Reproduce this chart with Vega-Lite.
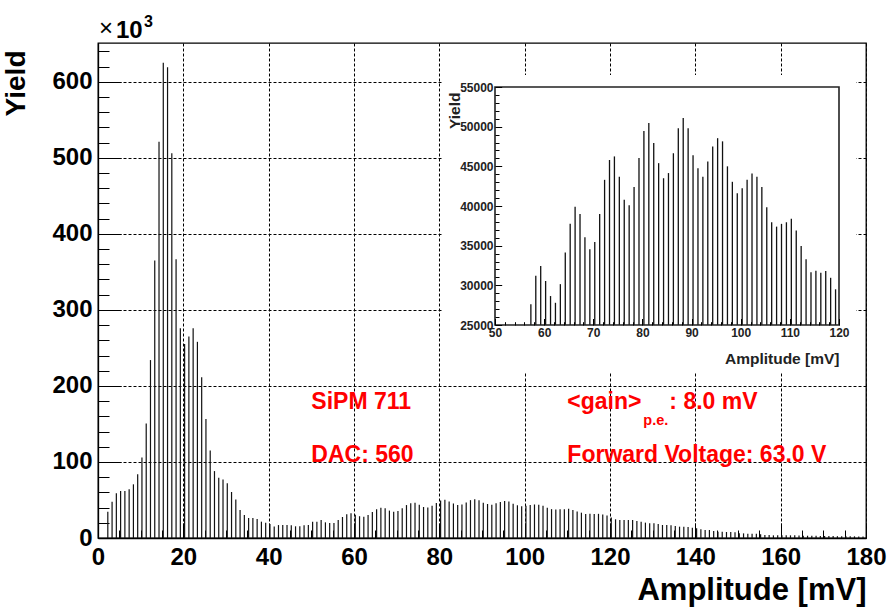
{
  "$schema": "https://vega.github.io/schema/vega-lite/v6.json",
  "width": 768,
  "height": 495,
  "autosize": "none",
  "padding": {"left": 98, "top": 43, "right": 25, "bottom": 73},
  "background": "#ffffff",
  "config": {
    "view": {"stroke": "#000000", "strokeWidth": 1.3},
    "axis": {"labelFont": "Liberation Sans", "titleFont": "Liberation Sans", "labelColor": "#000000", "titleColor": "#000000", "tickColor": "#000000", "domainColor": "#000000", "labelFlush": false, "labelOverlap": false, "labelBound": false}
  },
  "datasets": {
    "hist": [
      {"amp": 2.3, "yield": 34600}, {"amp": 3.3, "yield": 47800}, {"amp": 4.3, "yield": 58800}, {"amp": 5.3, "yield": 61800},
      {"amp": 6.3, "yield": 61800}, {"amp": 7.3, "yield": 64000}, {"amp": 8.3, "yield": 70600}, {"amp": 9.3, "yield": 83800},
      {"amp": 10.3, "yield": 106000}, {"amp": 11.3, "yield": 150500}, {"amp": 12.3, "yield": 234000}, {"amp": 13.3, "yield": 365000},
      {"amp": 14.3, "yield": 521000}, {"amp": 15.3, "yield": 625000}, {"amp": 16.3, "yield": 619000}, {"amp": 17.3, "yield": 506000},
      {"amp": 18.3, "yield": 366700}, {"amp": 19.3, "yield": 276000}, {"amp": 20.3, "yield": 255000}, {"amp": 21.3, "yield": 265000},
      {"amp": 22.3, "yield": 276000}, {"amp": 23.3, "yield": 258000}, {"amp": 24.3, "yield": 211500}, {"amp": 25.3, "yield": 156500},
      {"amp": 26.3, "yield": 115000}, {"amp": 27.3, "yield": 88000}, {"amp": 28.3, "yield": 79200}, {"amp": 29.3, "yield": 77000},
      {"amp": 30.3, "yield": 72000}, {"amp": 31.3, "yield": 60500}, {"amp": 32.3, "yield": 50500}, {"amp": 33.3, "yield": 36800},
      {"amp": 34.3, "yield": 30300}, {"amp": 35.3, "yield": 26300}, {"amp": 36.3, "yield": 26300}, {"amp": 37.3, "yield": 25000},
      {"amp": 38.3, "yield": 21500}, {"amp": 39.3, "yield": 20200}, {"amp": 40.3, "yield": 18500}, {"amp": 41.3, "yield": 15000},
      {"amp": 42.3, "yield": 17000}, {"amp": 43.3, "yield": 17100}, {"amp": 44.3, "yield": 17100}, {"amp": 45.3, "yield": 16700},
      {"amp": 46.3, "yield": 15400}, {"amp": 47.3, "yield": 15400}, {"amp": 48.3, "yield": 16700}, {"amp": 49.3, "yield": 17100},
      {"amp": 50.3, "yield": 21500}, {"amp": 51.3, "yield": 21500}, {"amp": 52.3, "yield": 23700}, {"amp": 53.3, "yield": 20600},
      {"amp": 54.3, "yield": 19700}, {"amp": 55.3, "yield": 19700}, {"amp": 56.3, "yield": 23700}, {"amp": 57.3, "yield": 27600},
      {"amp": 58.3, "yield": 31200}, {"amp": 59.3, "yield": 32450}, {"amp": 60.3, "yield": 30550}, {"amp": 61.3, "yield": 28650},
      {"amp": 62.3, "yield": 27800}, {"amp": 63.3, "yield": 30150}, {"amp": 64.3, "yield": 34150}, {"amp": 65.3, "yield": 37750},
      {"amp": 66.3, "yield": 39900}, {"amp": 67.3, "yield": 39000}, {"amp": 68.3, "yield": 36050}, {"amp": 69.3, "yield": 34550},
      {"amp": 70.3, "yield": 35450}, {"amp": 71.3, "yield": 39000}, {"amp": 72.3, "yield": 43300}, {"amp": 73.3, "yield": 45800},
      {"amp": 74.3, "yield": 46250}, {"amp": 75.3, "yield": 43700}, {"amp": 76.3, "yield": 40800}, {"amp": 77.3, "yield": 40100},
      {"amp": 78.3, "yield": 42400}, {"amp": 79.3, "yield": 46050}, {"amp": 80.3, "yield": 49450}, {"amp": 81.3, "yield": 50450},
      {"amp": 82.3, "yield": 47950}, {"amp": 83.3, "yield": 45400}, {"amp": 84.3, "yield": 43500}, {"amp": 85.3, "yield": 44150},
      {"amp": 86.3, "yield": 46650}, {"amp": 87.3, "yield": 49800}, {"amp": 88.3, "yield": 51100}, {"amp": 89.3, "yield": 49800},
      {"amp": 90.3, "yield": 46400}, {"amp": 91.3, "yield": 44750}, {"amp": 92.3, "yield": 43700}, {"amp": 93.3, "yield": 45600},
      {"amp": 94.3, "yield": 47500}, {"amp": 95.3, "yield": 48550}, {"amp": 96.3, "yield": 48150}, {"amp": 97.3, "yield": 45000},
      {"amp": 98.3, "yield": 43050}, {"amp": 99.3, "yield": 41600}, {"amp": 100.3, "yield": 42250}, {"amp": 101.3, "yield": 43300},
      {"amp": 102.3, "yield": 44100}, {"amp": 103.3, "yield": 43700}, {"amp": 104.3, "yield": 42400}, {"amp": 105.3, "yield": 39850},
      {"amp": 106.3, "yield": 37950}, {"amp": 107.3, "yield": 37400}, {"amp": 108.3, "yield": 37750}, {"amp": 109.3, "yield": 37950},
      {"amp": 110.3, "yield": 38400}, {"amp": 111.3, "yield": 36900}, {"amp": 112.3, "yield": 34950}, {"amp": 113.3, "yield": 33300},
      {"amp": 114.3, "yield": 31650}, {"amp": 115.3, "yield": 31850}, {"amp": 116.3, "yield": 31600}, {"amp": 117.3, "yield": 31800},
      {"amp": 118.3, "yield": 30950}, {"amp": 119.3, "yield": 29500}, {"amp": 120.3, "yield": 26800}, {"amp": 121.3, "yield": 24600},
      {"amp": 122.3, "yield": 23700}, {"amp": 123.3, "yield": 23700}, {"amp": 124.3, "yield": 23700}, {"amp": 125.3, "yield": 23700},
      {"amp": 126.3, "yield": 22400}, {"amp": 127.3, "yield": 21500}, {"amp": 128.3, "yield": 20200}, {"amp": 129.3, "yield": 19300},
      {"amp": 130.3, "yield": 19300}, {"amp": 131.3, "yield": 18400}, {"amp": 132.3, "yield": 17100}, {"amp": 133.3, "yield": 17100},
      {"amp": 134.3, "yield": 16700}, {"amp": 135.3, "yield": 15800}, {"amp": 136.3, "yield": 14900}, {"amp": 137.3, "yield": 14900},
      {"amp": 138.3, "yield": 14500}, {"amp": 139.3, "yield": 13600}, {"amp": 140.3, "yield": 12700}, {"amp": 141.3, "yield": 11400},
      {"amp": 142.3, "yield": 10500}, {"amp": 143.3, "yield": 10500}, {"amp": 144.3, "yield": 9200}, {"amp": 145.3, "yield": 8300},
      {"amp": 146.3, "yield": 8300}, {"amp": 147.3, "yield": 7900}, {"amp": 148.3, "yield": 7900}, {"amp": 149.3, "yield": 7500},
      {"amp": 150.3, "yield": 6100}, {"amp": 151.3, "yield": 6100}, {"amp": 152.3, "yield": 5700}, {"amp": 153.3, "yield": 5700},
      {"amp": 154.3, "yield": 5500}, {"amp": 155.3, "yield": 4800}, {"amp": 156.3, "yield": 3900}, {"amp": 157.3, "yield": 3900},
      {"amp": 158.3, "yield": 3500}, {"amp": 159.3, "yield": 3500}, {"amp": 160.3, "yield": 3500}, {"amp": 161.3, "yield": 3500},
      {"amp": 162.3, "yield": 3500}, {"amp": 163.3, "yield": 3500}, {"amp": 164.3, "yield": 3200}, {"amp": 165.3, "yield": 3000},
      {"amp": 166.3, "yield": 3000}, {"amp": 167.3, "yield": 2800}, {"amp": 168.3, "yield": 2800}, {"amp": 169.3, "yield": 2600},
      {"amp": 170.3, "yield": 2600}, {"amp": 171.3, "yield": 2500}, {"amp": 172.3, "yield": 2500}, {"amp": 173.3, "yield": 2400},
      {"amp": 174.3, "yield": 2400}, {"amp": 175.3, "yield": 2300}, {"amp": 176.3, "yield": 2200}, {"amp": 177.3, "yield": 2200},
      {"amp": 178.3, "yield": 2100}, {"amp": 179.3, "yield": 2000}
    ]
  },
  "layer": [
    {
      "layer": [
        {
          "data": {"name": "hist"},
          "mark": {"type": "rule", "color": "#111111", "strokeWidth": 1.2},
          "encoding": {
            "x": {
              "field": "amp", "type": "quantitative",
              "scale": {"domain": [0, 180], "nice": false, "zero": false},
              "axis": {
                "orient": "bottom", "values": [0, 20, 40, 60, 80, 100, 120, 140, 160, 180],
                "grid": true, "gridColor": "#000000", "gridDash": [3, 2], "gridWidth": 1,
                "tickSize": -15, "tickWidth": 1, "domain": true, "domainWidth": 1.3,
                "labelFontSize": 24, "labelFontWeight": "bold", "labelPadding": 22, "format": "d",
                "title": "Amplitude [mV]", "titleFontSize": 31, "titleFontWeight": "bold",
                "titleAlign": "right", "titleBaseline": "alphabetic", "titleX": 768, "titleY": 61
              }
            },
            "y": {
              "field": "yield", "type": "quantitative",
              "scale": {"domain": [0, 651000], "nice": false},
              "axis": {
                "orient": "left", "values": [0, 100000, 200000, 300000, 400000, 500000, 600000],
                "labelExpr": "format(datum.value / 1000, 'd')",
                "grid": true, "gridColor": "#000000", "gridDash": [3, 2], "gridWidth": 1,
                "tickSize": -23, "tickWidth": 1, "domain": true, "domainWidth": 1.3,
                "labelFontSize": 24, "labelFontWeight": "bold", "labelPadding": 29,
                "title": "Yield", "titleFontSize": 28, "titleFontWeight": "bold", "titleAngle": -90,
                "titleAlign": "right", "titleBaseline": "middle", "titleX": -82, "titleY": 7
              }
            },
            "y2": {"datum": 0}
          }
        },
        {
          "data": {"name": "hist"},
          "mark": {"type": "point", "opacity": 0},
          "encoding": {
            "x": {
              "field": "amp", "type": "quantitative",
              "axis": {
                "orient": "bottom", "values": [5, 10, 15, 25, 30, 35, 45, 50, 55, 65, 70, 75, 85, 90, 95, 105, 110, 115, 125, 130, 135, 145, 150, 155, 165, 170, 175],
                "grid": false, "domain": false, "labels": false, "title": null, "tickSize": -8, "tickWidth": 1
              }
            },
            "y": {
              "field": "yield", "type": "quantitative",
              "axis": {
                "orient": "left", "values": [20000, 40000, 60000, 80000, 120000, 140000, 160000, 180000, 220000, 240000, 260000, 280000, 320000, 340000, 360000, 380000, 420000, 440000, 460000, 480000, 520000, 540000, 560000, 580000, 620000, 640000],
                "grid": false, "domain": false, "labels": false, "title": null, "tickSize": -11, "tickWidth": 1
              }
            }
          }
        },
        {
          "data": {"values": [{}]},
          "mark": {"type": "text", "text": "SiPM 711", "font": "Liberation Sans", "fontWeight": "bold", "fontSize": 23, "color": "#ff0000", "align": "left", "baseline": "alphabetic"},
          "encoding": {"x": {"datum": 50, "type": "quantitative", "axis": null}, "y": {"datum": 170000, "type": "quantitative", "axis": null}}
        },
        {
          "data": {"values": [{}]},
          "mark": {"type": "text", "text": "DAC: 560", "font": "Liberation Sans", "fontWeight": "bold", "fontSize": 23, "color": "#ff0000", "align": "left", "baseline": "alphabetic"},
          "encoding": {"x": {"datum": 50, "type": "quantitative", "axis": null}, "y": {"datum": 100000, "type": "quantitative", "axis": null}}
        },
        {
          "data": {"values": [{}]},
          "mark": {"type": "text", "text": "<gain>", "font": "Liberation Sans", "fontWeight": "bold", "fontSize": 23, "color": "#ff0000", "align": "left", "baseline": "alphabetic"},
          "encoding": {"x": {"datum": 110, "type": "quantitative", "axis": null}, "y": {"datum": 170000, "type": "quantitative", "axis": null}}
        },
        {
          "data": {"values": [{}]},
          "mark": {"type": "text", "text": "p.e.", "font": "Liberation Sans", "fontWeight": "bold", "fontSize": 14.5, "color": "#ff0000", "align": "left", "baseline": "alphabetic", "dx": 76, "dy": 16},
          "encoding": {"x": {"datum": 110, "type": "quantitative", "axis": null}, "y": {"datum": 170000, "type": "quantitative", "axis": null}}
        },
        {
          "data": {"values": [{}]},
          "mark": {"type": "text", "text": ": 8.0 mV", "font": "Liberation Sans", "fontWeight": "bold", "fontSize": 23, "color": "#ff0000", "align": "left", "baseline": "alphabetic", "dx": 102},
          "encoding": {"x": {"datum": 110, "type": "quantitative", "axis": null}, "y": {"datum": 170000, "type": "quantitative", "axis": null}}
        },
        {
          "data": {"values": [{}]},
          "mark": {"type": "text", "text": "Forward Voltage: 63.0 V", "font": "Liberation Sans", "fontWeight": "bold", "fontSize": 23, "color": "#ff0000", "align": "left", "baseline": "alphabetic"},
          "encoding": {"x": {"datum": 110, "type": "quantitative", "axis": null}, "y": {"datum": 100000, "type": "quantitative", "axis": null}}
        },
        {
          "data": {"values": [{}]},
          "mark": {"type": "text", "text": "×", "font": "Liberation Sans", "fontWeight": "normal", "fontSize": 24, "color": "#000000", "align": "left", "baseline": "alphabetic", "dx": 1, "dy": -7},
          "encoding": {"x": {"datum": 0, "type": "quantitative", "axis": null}, "y": {"datum": 651000, "type": "quantitative", "axis": null}}
        },
        {
          "data": {"values": [{}]},
          "mark": {"type": "text", "text": "10", "font": "Liberation Sans", "fontWeight": "bold", "fontSize": 24, "color": "#000000", "align": "left", "baseline": "alphabetic", "dx": 18, "dy": -5},
          "encoding": {"x": {"datum": 0, "type": "quantitative", "axis": null}, "y": {"datum": 651000, "type": "quantitative", "axis": null}}
        },
        {
          "data": {"values": [{}]},
          "mark": {"type": "text", "text": "3", "font": "Liberation Sans", "fontWeight": "bold", "fontSize": 16, "color": "#000000", "align": "left", "baseline": "alphabetic", "dx": 46, "dy": -16},
          "encoding": {"x": {"datum": 0, "type": "quantitative", "axis": null}, "y": {"datum": 651000, "type": "quantitative", "axis": null}}
        },
        {
          "data": {"values": [{}]},
          "mark": {"type": "rect", "color": "#ffffff"},
          "encoding": {
            "x": {"datum": 80.8, "type": "quantitative", "axis": null},
            "x2": {"datum": 177.7},
            "y": {"datum": 218000, "type": "quantitative", "axis": null},
            "y2": {"datum": 609000}
          }
        }
      ],
      "resolve": {"axis": {"x": "independent", "y": "independent"}}
    },
    {
      "layer": [
        {
          "data": {"name": "hist"},
          "transform": [{"filter": "datum.amp >= 50 && datum.amp <= 120 && datum.yield >= 25000"}],
          "mark": {"type": "rule", "color": "#111111", "strokeWidth": 1.3},
          "encoding": {
            "x": {
              "field": "amp", "type": "quantitative",
              "scale": {"domain": [50, 120], "range": [397, 741], "nice": false, "zero": false},
              "axis": {
                "orient": "bottom", "offset": -213, "values": [50, 60, 70, 80, 90, 100, 110, 120],
                "grid": false, "domain": false, "tickSize": -6.5, "tickWidth": 1,
                "labelFontSize": 12, "labelFontWeight": "bold", "labelColor": "#222222", "labelPadding": 9, "format": "d",
                "title": "Amplitude [mV]", "titleFontSize": 15.5, "titleFontWeight": "bold", "titleColor": "#222222",
                "titleAlign": "right", "titleBaseline": "alphabetic", "titleX": 741, "titleY": 38, "zindex": 1
              }
            },
            "y": {
              "field": "yield", "type": "quantitative",
              "scale": {"domain": [25000, 55000], "range": [282, 44], "nice": false, "zero": false},
              "axis": {
                "orient": "left", "offset": -397, "values": [25000, 30000, 35000, 40000, 45000, 50000, 55000],
                "grid": false, "domain": false, "tickSize": -6.7, "tickWidth": 1,
                "labelFontSize": 12, "labelFontWeight": "bold", "labelColor": "#222222", "labelPadding": 8.7, "format": "d",
                "title": "Yield", "titleFontSize": 15.5, "titleFontWeight": "bold", "titleColor": "#222222", "titleAngle": -90,
                "titleAlign": "right", "titleBaseline": "middle", "titleX": -41, "titleY": 49, "zindex": 1
              }
            },
            "y2": {"datum": 25000}
          }
        },
        {
          "data": {"name": "hist"},
          "transform": [{"filter": "datum.amp >= 50 && datum.amp <= 120 && datum.yield >= 25000"}],
          "mark": {"type": "point", "opacity": 0},
          "encoding": {
            "x": {
              "field": "amp", "type": "quantitative",
              "axis": {
                "orient": "bottom", "offset": -213, "values": [52, 54, 56, 58, 62, 64, 66, 68, 72, 74, 76, 78, 82, 84, 86, 88, 92, 94, 96, 98, 102, 104, 106, 108, 112, 114, 116, 118],
                "grid": false, "domain": false, "labels": false, "title": null, "tickSize": -3.3, "tickWidth": 1, "zindex": 1
              }
            },
            "y": {
              "field": "yield", "type": "quantitative",
              "axis": {
                "orient": "left", "offset": -397, "values": [26000, 27000, 28000, 29000, 31000, 32000, 33000, 34000, 36000, 37000, 38000, 39000, 41000, 42000, 43000, 44000, 46000, 47000, 48000, 49000, 51000, 52000, 53000, 54000],
                "grid": false, "domain": false, "labels": false, "title": null, "tickSize": -4, "tickWidth": 1, "zindex": 1
              }
            }
          }
        },
        {
          "data": {"values": [{}]},
          "mark": {"type": "rect", "filled": false, "stroke": "#222222", "strokeWidth": 1.6},
          "encoding": {
            "x": {"datum": 50, "type": "quantitative", "axis": null},
            "x2": {"datum": 120},
            "y": {"datum": 25000, "type": "quantitative", "axis": null},
            "y2": {"datum": 55000}
          }
        }
      ],
      "resolve": {"axis": {"x": "independent", "y": "independent"}}
    }
  ],
  "resolve": {"scale": {"x": "independent", "y": "independent"}}
}
